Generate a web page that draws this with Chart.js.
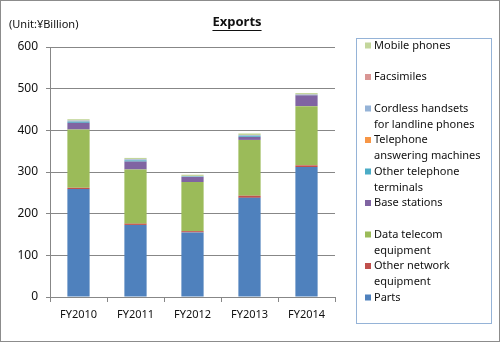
<!DOCTYPE html>
<html>
<head>
<meta charset="utf-8">
<script src="https://cdn.jsdelivr.net/npm/chart.js@4.4.0/dist/chart.umd.min.js"></script>
<style>
  html, body { margin: 0; padding: 0; background: #fff; }
  #wrap { width: 500px; height: 342px; }
</style>
</head>
<body>
<div id="wrap"><canvas id="ch"></canvas></div>
<script>
// fiscal years
const years = ['FY2010', 'FY2011', 'FY2012', 'FY2013', 'FY2014'];

// series, bottom of the stack first
const parts          = [259, 173, 155, 238, 312];
const otherNetwork   = [3, 3, 3, 5, 4];
const dataTelecom    = [140, 130, 118, 134, 142];
const baseStations   = [16, 19, 12, 7, 26];
const otherTelTerm   = [3, 3, 1, 2, 1];
const answering      = [0.3, 0.3, 0.2, 0.2, 0.2];
const cordless       = [2, 2, 1, 2, 1];
const facsimiles     = [0.5, 0.5, 0.3, 0.3, 0.3];
const mobilePhones   = [3, 3, 3, 4, 3];

const seriesNames = [
  ['Parts'],
  ['Other network', 'equipment'],
  ['Data telecom', 'equipment'],
  ['Base stations'],
  ['Other telephone', 'terminals'],
  ['Telephone', 'answering machines'],
  ['Cordless handsets', 'for landline phones'],
  ['Facsimiles'],
  ['Mobile phones']
];
const seriesValues = [parts, otherNetwork, dataTelecom, baseStations, otherTelTerm,
                      answering, cordless, facsimiles, mobilePhones];
const colors = ['#4F81BD', '#C0504D', '#9BBB59', '#8064A2', '#4BACC6',
                '#F79646', '#95B3D7', '#D99694', '#C3D69B'];

const yTicks = [0, 100, 200, 300, 400, 500, 600];

const FONT = '"Noto Sans", "Open Sans", sans-serif';
const TEXT = '#111';
const GRID = '#878787';

// frame, title, unit note and the legend box
const decor = {
  id: 'decor',
  beforeDraw(chart) {
    const c = chart.ctx;
    c.save();
    c.fillStyle = '#fff';
    c.fillRect(0, 0, chart.width, chart.height);
    c.restore();
  },
  afterDraw(chart) {
    const c = chart.ctx;
    c.save();
    c.strokeStyle = '#8c8c8c';
    c.lineWidth = 1;
    c.strokeRect(0.5, 0.5, chart.width - 1, chart.height - 1);

    c.fillStyle = TEXT;
    c.font = 'bold 13px ' + FONT;
    c.textAlign = 'center';
    c.textBaseline = 'middle';
    c.fillText('Exports', 237, 22);
    const tw = c.measureText('Exports').width;
    c.fillRect(237 - tw / 2, 30, tw, 1);

    c.font = '11px ' + FONT;
    c.textAlign = 'left';
    c.fillText('(Unit:\u00A5Billion)', 9, 25);

    // legend
    c.strokeStyle = '#95B3D7';
    c.strokeRect(356.5, 38.5, 135, 285);
    const n = seriesNames.length;
    for (let k = 0; k < n; k++) {
      const i = n - 1 - k;
      const y = 45.5 + k * 31.5;
      c.fillStyle = colors[i];
      c.fillRect(365, y - 3, 6, 6);
      c.fillStyle = TEXT;
      seriesNames[i].forEach((line, j) => c.fillText(line, 374, y + j * 16));
    }
    c.restore();
  }
};

const config = {
  type: 'bar',
  data: {
    labels: years,
    datasets: seriesNames.map((name, i) => ({
      label: name.join(' '),
      data: seriesValues[i],
      backgroundColor: colors[i],
      borderWidth: 0,
      categoryPercentage: 1,
      barPercentage: 0.39
    }))
  },
  options: {
    responsive: false,
    animation: false,
    layout: { padding: { top: 47, right: 165, left: 0, bottom: 0 } },
    plugins: {
      legend: { display: false },
      tooltip: { enabled: false },
      title: { display: false }
    },
    scales: {
      x: {
        stacked: true,
        grid: { drawOnChartArea: false, drawTicks: true, tickLength: 5, color: GRID, offset: true },
        border: { color: GRID },
        ticks: { color: TEXT, font: { family: FONT, size: 11 }, padding: 6 },
        afterFit(s) { s.height = 45; }
      },
      y: {
        stacked: true,
        min: 0,
        max: 600,
        afterBuildTicks(s) { s.ticks = yTicks.map(v => ({ value: v })); },
        grid: { color: GRID, tickLength: 4 },
        border: { color: GRID },
        ticks: { color: TEXT, font: { family: FONT, size: 12 }, padding: 8 },
        afterFit(s) { s.width = 50; }
      }
    }
  },
  plugins: [decor]
};

const cv = document.getElementById('ch');
cv.width = 500;
cv.height = 342;
new Chart(cv, config);
</script>
</body>
</html>
